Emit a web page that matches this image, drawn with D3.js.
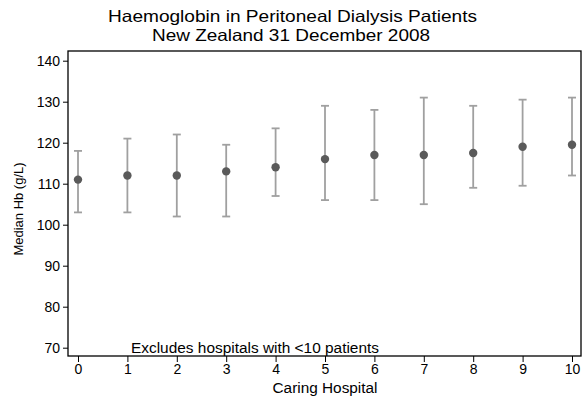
<!DOCTYPE html>
<html lang="en">
<head>
  <meta charset="utf-8">
  <title>Haemoglobin in Peritoneal Dialysis Patients</title>
  <script src="https://d3js.org/d3.v7.min.js"></script>
  <style>
    body { margin: 0; background: #fff; }
    svg { display: block; font-family: "Liberation Sans", Arial, sans-serif; }
  </style>
</head>
<body>
  <svg id="chart"></svg>
  <script>
  // hospitals (x), median Hb and the lower / upper whisker ends
  const hospitals = [0, 1, 2, 3, 4, 5, 6, 7, 8, 9, 10];
  const medianHb = [111, 112, 112, 113, 114, 116, 117, 117, 117.5, 119, 119.5];
  const lowerHb = [103, 103, 102, 102, 107, 106, 106, 105, 109, 109.5, 112];
  const upperHb = [118, 121, 122, 119.5, 123.5, 129, 128, 131, 129, 130.5, 131];
  const yTicks = [70, 80, 90, 100, 110, 120, 130, 140];
  const xTicks = [0, 1, 2, 3, 4, 5, 6, 7, 8, 9, 10];

  const width = 585, height = 401;
  const frame = { left: 68, right: 581, top: 51, bottom: 356 };

  const svg = d3.select("#chart").attr("width", width).attr("height", height);

  const x = d3.scaleLinear().domain([0, 10]).range([78, 572]);
  const y = d3.scaleLinear().domain([70, 140]).range([347.7, 60.7]);

  // titles (the original is a bit stretched sideways, so fix the widths)
  svg.append("text").attr("x", 292.5).attr("y", 22).attr("text-anchor", "middle")
    .attr("textLength", 369).attr("lengthAdjust", "spacingAndGlyphs")
    .style("font-size", "16.5px").text("Haemoglobin in Peritoneal Dialysis Patients");
  svg.append("text").attr("x", 291).attr("y", 41).attr("text-anchor", "middle")
    .attr("textLength", 278).attr("lengthAdjust", "spacingAndGlyphs")
    .style("font-size", "16.5px").text("New Zealand 31 December 2008");

  // axes
  const yAxis = d3.axisLeft(y).tickValues(yTicks).tickSize(5).tickPadding(3);
  svg.append("g").attr("transform", `translate(${frame.left},0)`).call(yAxis)
    .call(g => g.select(".domain").remove())
    .call(g => g.selectAll("text").style("font-size", "14px").attr("fill", "#000"))
    .call(g => g.selectAll("line").attr("stroke", "#000"));

  const xAxis = d3.axisBottom(x).tickValues(xTicks).tickSize(6).tickPadding(2);
  svg.append("g").attr("transform", `translate(0,${frame.bottom})`).call(xAxis)
    .call(g => g.select(".domain").remove())
    .call(g => g.selectAll("text").style("font-size", "14px").attr("fill", "#000"))
    .call(g => g.selectAll("line").attr("stroke", "#000"));

  // plot frame
  svg.append("rect")
    .attr("x", frame.left).attr("y", frame.top)
    .attr("width", frame.right - frame.left).attr("height", frame.bottom - frame.top)
    .attr("fill", "none").attr("stroke", "#000").attr("stroke-width", 1.3);

  // axis titles
  svg.append("text").attr("x", 325).attr("y", 393).attr("text-anchor", "middle")
    .attr("textLength", 105).attr("lengthAdjust", "spacingAndGlyphs")
    .style("font-size", "14px").text("Caring Hospital");
  svg.append("text").attr("transform", "translate(23,209) rotate(-90)").attr("text-anchor", "middle")
    .style("font-size", "13px").text("Median Hb (g/L)");

  // note
  svg.append("text").attr("x", 131).attr("y", 353)
    .attr("textLength", 248).attr("lengthAdjust", "spacingAndGlyphs")
    .style("font-size", "14px").text("Excludes hospitals with <10 patients");

  // error bars
  const bars = svg.append("g").attr("stroke", "#a0a0a0").attr("stroke-width", 1.8);
  hospitals.forEach((h, i) => {
    bars.append("line").attr("x1", x(h)).attr("x2", x(h))
      .attr("y1", y(lowerHb[i])).attr("y2", y(upperHb[i]));
    bars.append("line").attr("x1", x(h) - 4).attr("x2", x(h) + 4)
      .attr("y1", y(lowerHb[i])).attr("y2", y(lowerHb[i]));
    bars.append("line").attr("x1", x(h) - 4).attr("x2", x(h) + 4)
      .attr("y1", y(upperHb[i])).attr("y2", y(upperHb[i]));
  });

  // medians
  svg.append("g").selectAll("circle")
    .data(hospitals).enter()
    .append("circle")
    .attr("cx", d => x(d))
    .attr("cy", (d, i) => y(medianHb[i]))
    .attr("r", 4.2)
    .attr("fill", "#5a5a5a");
  </script>
</body>
</html>
